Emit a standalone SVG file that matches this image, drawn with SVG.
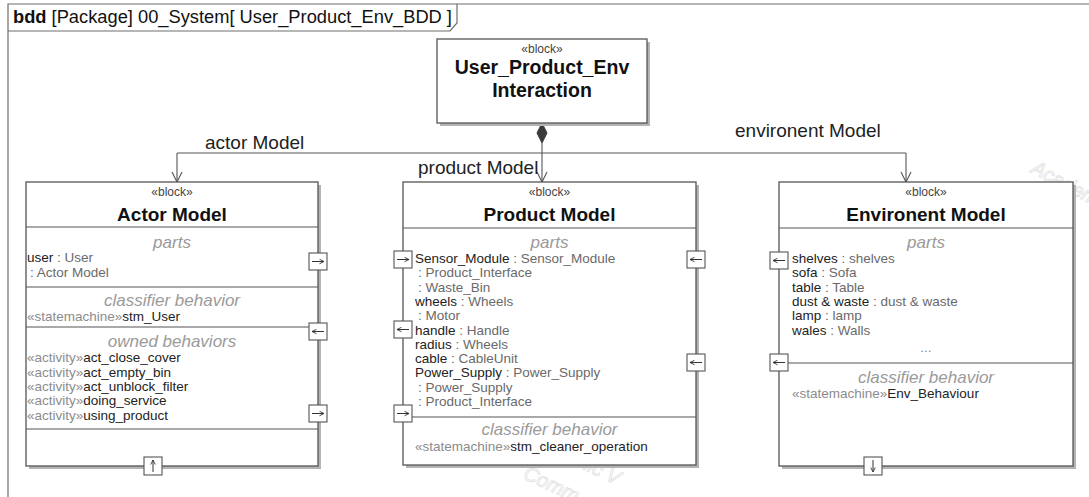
<svg xmlns="http://www.w3.org/2000/svg" width="1089" height="497" viewBox="0 0 1089 497">
  <style>
    text { font-family: "Liberation Sans", Arial, sans-serif; }
    .frame { fill: none; stroke: #6e6e6e; stroke-width: 1.2; }
    .box { fill: #ffffff; stroke: #555555; stroke-width: 1.3; }
    .shadow { fill: #b4b4b4; }
    .sep { stroke: #555555; stroke-width: 1.1; }
    .wire { fill: none; stroke: #555555; stroke-width: 1.1; }
    .port { fill: #ffffff; stroke: #555555; stroke-width: 1.1; }
    .pa { fill: none; stroke: #333333; stroke-width: 1; }
    .stereo { font-size: 12px; fill: #444444; text-anchor: middle; }
    .title { font-size: 19px; font-weight: bold; fill: #111111; text-anchor: middle; }
    .comp { font-size: 17px; font-style: italic; fill: #9a9a9a; text-anchor: middle; }
    .item { font-size: 13.5px; fill: #222222; }
    .ty { fill: #6a6a6a; }
    .kw { fill: #8c8c8c; }
    .role { font-size: 19px; fill: #222222; }
    .wm { font-size: 20px; fill: none; stroke: #e2e2e2; stroke-width: 0.8; font-style: italic; }
  </style>
  <defs>
    <marker id="open" viewBox="0 0 12 12" refX="11" refY="6" markerWidth="12" markerHeight="12" markerUnits="userSpaceOnUse" orient="auto">
      <path d="M1,1 L11,6 L1,11" fill="none" stroke="#555555" stroke-width="1.1"/>
    </marker>
    <marker id="pHead" viewBox="0 0 8 8" refX="7" refY="4" markerWidth="6" markerHeight="6" markerUnits="userSpaceOnUse" orient="auto">
      <path d="M1,1 L7,4 L1,7" fill="none" stroke="#333333" stroke-width="1.2"/>
    </marker>
  </defs>

  <rect x="0" y="0" width="1089" height="497" fill="#ffffff"/>

  <!-- faint licence watermark behind the blocks -->
  <g id="watermark">
    <text class="wm" x="1030" y="172" transform="rotate(28 1030 172)">Academic</text>
    <text class="wm" x="1040" y="205" transform="rotate(28 1040 205)">Ve</text>
    <text class="wm" x="520" y="440" transform="rotate(25 520 440)">Academic V</text>
    <text class="wm" x="522" y="478" transform="rotate(25 522 478)">Comm</text>
  </g>

  <!-- diagram frame and name tab -->
  <g id="frame">
    <path class="frame" d="M8,497 V4 H1089"/>
    <path class="frame" d="M8,31 H450 L457,23 V4"/>
    <text x="13" y="23" font-size="18.3" fill="#111111"><tspan font-weight="bold">bdd</tspan> [Package] 00_System[ User_Product_Env_BDD ]</text>
  </g>

  <!-- connectors: composition from the interaction block to its three parts -->
  <g id="connectors">
    <path class="wire" d="M542,143 V182" marker-end="url(#open)"/>
    <path class="wire" d="M177,153 H906"/>
    <path class="wire" d="M177,153 V182" marker-end="url(#open)"/>
    <path class="wire" d="M906,153 V182" marker-end="url(#open)"/>
    <path d="M542,123 L537,133 L542,143 L547,133 Z" fill="#3a3a3a" stroke="#3a3a3a" stroke-width="1"/>
    <text class="role" x="205" y="149">actor Model</text>
    <text class="role" x="418" y="174">product Model</text>
    <text class="role" x="735" y="137">environent Model</text>
  </g>

  <!-- top block -->
  <g id="interaction">
    <rect class="shadow" x="440" y="42" width="210" height="84"/>
    <rect class="box" x="437" y="39" width="210" height="84"/>
    <text class="stereo" x="542" y="53">«block»</text>
    <text class="title" x="542" y="74" style="font-size:19.5px">User_Product_Env</text>
    <text class="title" x="542" y="97" style="font-size:19.5px">Interaction</text>
  </g>

  <!-- Actor Model -->
  <g id="actor-model">
    <rect class="shadow" x="29" y="185" width="292" height="284"/>
    <rect class="box" x="26" y="182" width="292" height="284"/>
    <line class="sep" x1="26" y1="227" x2="318" y2="227"/>
    <line class="sep" x1="26" y1="287" x2="318" y2="287"/>
    <line class="sep" x1="26" y1="327" x2="318" y2="327"/>
    <line class="sep" x1="26" y1="429" x2="318" y2="429"/>
    <text class="stereo" x="172" y="196">«block»</text>
    <text class="title" x="172" y="221">Actor Model</text>
    <text class="comp" x="172" y="248">parts</text>
    <text class="item" x="27" y="262">user<tspan class="ty"> : User</tspan></text>
    <text class="item" x="30" y="277"><tspan class="ty">: Actor Model</tspan></text>
    <text class="comp" x="172" y="306">classifier behavior</text>
    <text class="item" x="27" y="321"><tspan class="kw">«statemachine»</tspan>stm_User</text>
    <text class="comp" x="172" y="347">owned behaviors</text>
    <text class="item" x="27" y="362"><tspan class="kw">«activity»</tspan>act_close_cover</text>
    <text class="item" x="27" y="377"><tspan class="kw">«activity»</tspan>act_empty_bin</text>
    <text class="item" x="27" y="391"><tspan class="kw">«activity»</tspan>act_unblock_filter</text>
    <text class="item" x="27" y="405"><tspan class="kw">«activity»</tspan>doing_service</text>
    <text class="item" x="27" y="420"><tspan class="kw">«activity»</tspan>using_product</text>
    <!-- ports -->
    <rect class="port" x="309" y="253" width="18" height="17"/>
    <path class="pa" d="M312,261.5 H324" marker-end="url(#pHead)"/>
    <rect class="port" x="309" y="323" width="18" height="17"/>
    <path class="pa" d="M324,331.5 H312" marker-end="url(#pHead)"/>
    <rect class="port" x="309" y="405" width="18" height="17"/>
    <path class="pa" d="M312,413.5 H324" marker-end="url(#pHead)"/>
    <rect class="port" x="144" y="457" width="18" height="18"/>
    <path class="pa" d="M153,472 V460" marker-end="url(#pHead)"/>
  </g>

  <!-- Product Model -->
  <g id="product-model">
    <rect class="shadow" x="406" y="185" width="293" height="283"/>
    <rect class="box" x="403" y="182" width="293" height="283"/>
    <line class="sep" x1="403" y1="228" x2="696" y2="228"/>
    <line class="sep" x1="403" y1="417" x2="696" y2="417"/>
    <text class="stereo" x="549.5" y="196">«block»</text>
    <text class="title" x="549.5" y="221">Product Model</text>
    <text class="comp" x="549.5" y="248">parts</text>
    <text class="item" x="415" y="263">Sensor_Module<tspan class="ty"> : Sensor_Module</tspan></text>
    <text class="item" x="418" y="277.3"><tspan class="ty">: Product_Interface</tspan></text>
    <text class="item" x="418" y="291.6"><tspan class="ty">: Waste_Bin</tspan></text>
    <text class="item" x="415" y="305.9">wheels<tspan class="ty"> : Wheels</tspan></text>
    <text class="item" x="418" y="320.2"><tspan class="ty">: Motor</tspan></text>
    <text class="item" x="415" y="334.5">handle<tspan class="ty"> : Handle</tspan></text>
    <text class="item" x="415" y="348.8">radius<tspan class="ty"> : Wheels</tspan></text>
    <text class="item" x="415" y="363.1">cable<tspan class="ty"> : CableUnit</tspan></text>
    <text class="item" x="415" y="377.4">Power_Supply<tspan class="ty"> : Power_Supply</tspan></text>
    <text class="item" x="418" y="391.7"><tspan class="ty">: Power_Supply</tspan></text>
    <text class="item" x="418" y="406"><tspan class="ty">: Product_Interface</tspan></text>
    <text class="comp" x="549.5" y="435">classifier behavior</text>
    <text class="item" x="415" y="451"><tspan class="kw">«statemachine»</tspan>stm_cleaner_operation</text>
    <!-- ports -->
    <rect class="port" x="394" y="251" width="18" height="17"/>
    <path class="pa" d="M397,259.5 H409" marker-end="url(#pHead)"/>
    <rect class="port" x="394" y="321" width="18" height="17"/>
    <path class="pa" d="M409,329.5 H397" marker-end="url(#pHead)"/>
    <rect class="port" x="394" y="405" width="18" height="17"/>
    <path class="pa" d="M397,413.5 H409" marker-end="url(#pHead)"/>
    <rect class="port" x="687" y="251" width="18" height="17"/>
    <path class="pa" d="M702,259.5 H690" marker-end="url(#pHead)"/>
    <rect class="port" x="687" y="354" width="18" height="17"/>
    <path class="pa" d="M702,362.5 H690" marker-end="url(#pHead)"/>
  </g>

  <!-- Environent Model -->
  <g id="environent-model">
    <rect class="shadow" x="782" y="185" width="294" height="284"/>
    <rect class="box" x="779" y="182" width="294" height="284"/>
    <line class="sep" x1="779" y1="228" x2="1073" y2="228"/>
    <line class="sep" x1="779" y1="363" x2="1073" y2="363"/>
    <text class="stereo" x="926" y="196">«block»</text>
    <text class="title" x="926" y="221">Environent Model</text>
    <text class="comp" x="926" y="248">parts</text>
    <text class="item" x="792" y="263">shelves<tspan class="ty"> : shelves</tspan></text>
    <text class="item" x="792" y="277.3">sofa<tspan class="ty"> : Sofa</tspan></text>
    <text class="item" x="792" y="291.6">table<tspan class="ty"> : Table</tspan></text>
    <text class="item" x="792" y="305.9">dust &amp; waste<tspan class="ty"> : dust &amp; waste</tspan></text>
    <text class="item" x="792" y="320.2">lamp<tspan class="ty"> : lamp</tspan></text>
    <text class="item" x="792" y="334.5">wales<tspan class="ty"> : Walls</tspan></text>
    <text class="item kw" x="926" y="352" text-anchor="middle">...</text>
    <text class="comp" x="926" y="383">classifier behavior</text>
    <text class="item" x="792" y="398"><tspan class="kw">«statemachine»</tspan>Env_Behaviour</text>
    <!-- ports -->
    <rect class="port" x="770" y="252" width="18" height="17"/>
    <path class="pa" d="M785,260.5 H773" marker-end="url(#pHead)"/>
    <rect class="port" x="770" y="354" width="18" height="17"/>
    <path class="pa" d="M785,362.5 H773" marker-end="url(#pHead)"/>
    <rect class="port" x="864" y="457" width="18" height="18"/>
    <path class="pa" d="M873,460 V472" marker-end="url(#pHead)"/>
  </g>
</svg>
